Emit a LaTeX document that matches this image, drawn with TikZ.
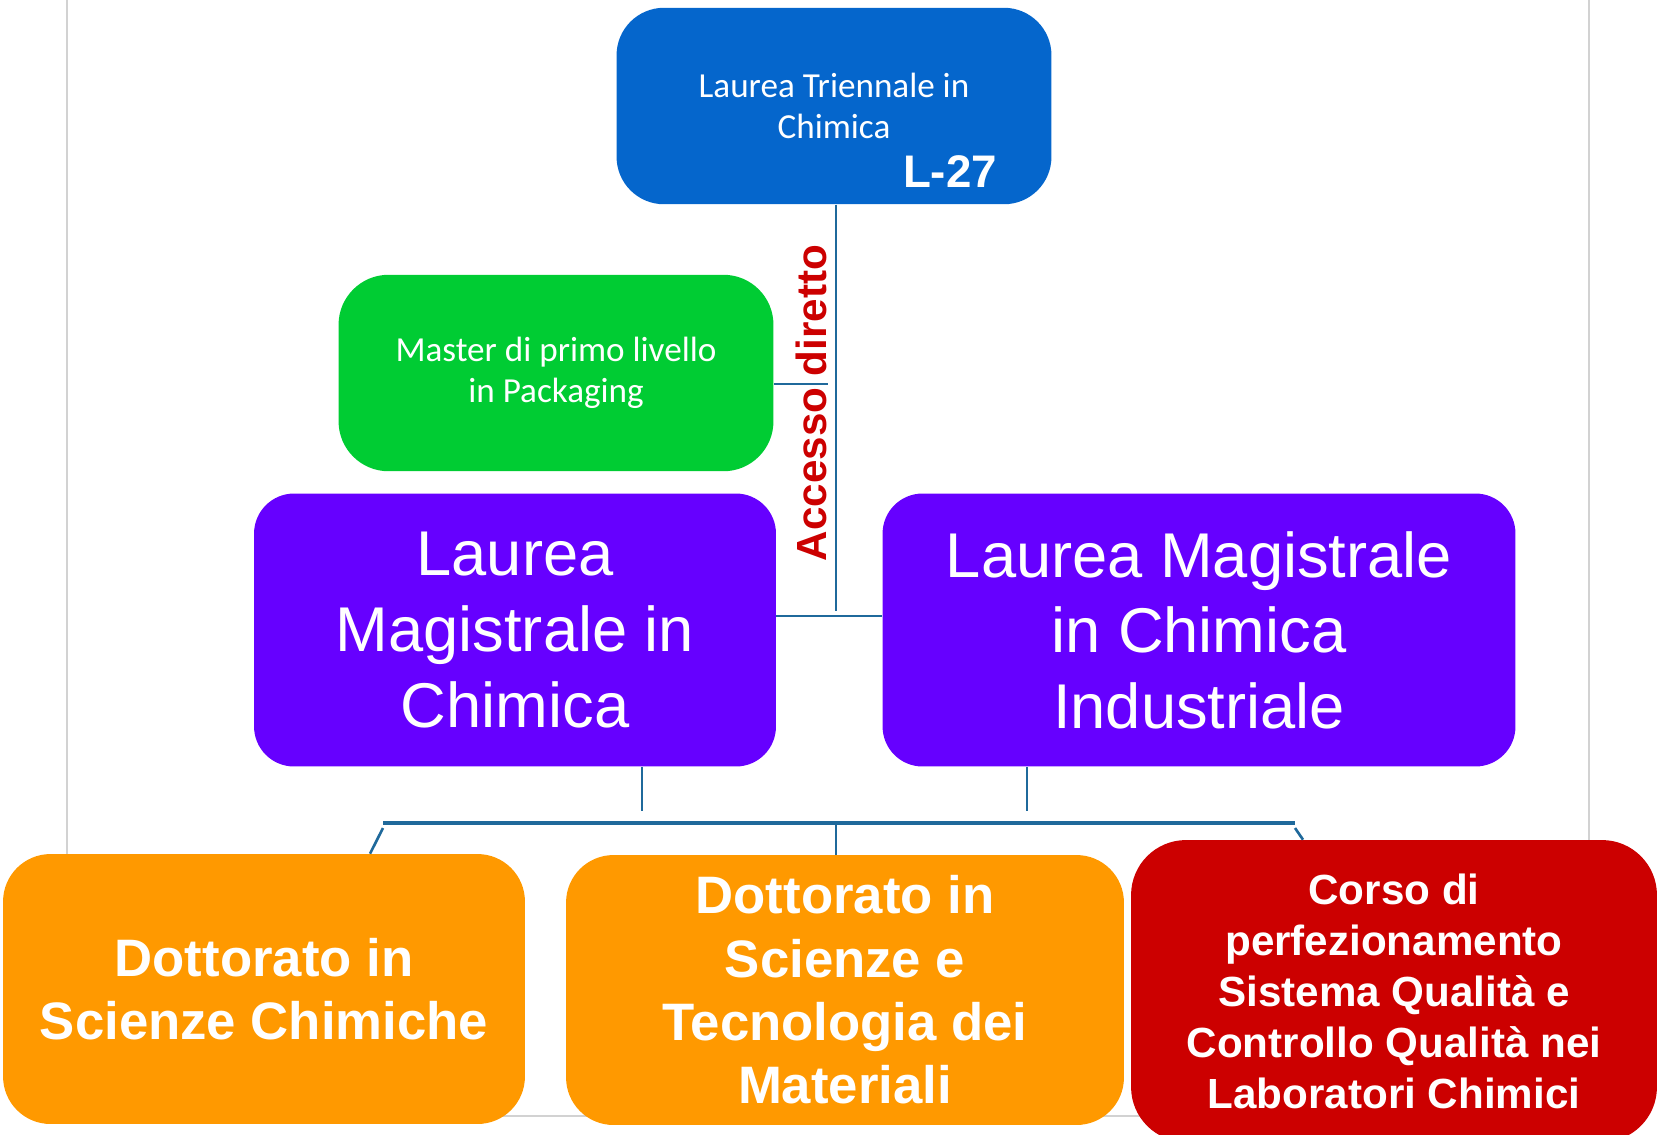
\documentclass[tikz,border=0pt]{standalone}
\usepackage{fontspec}
\setmainfont{Liberation Sans}
\newfontfamily\cbr{Carlito}
\usetikzlibrary{positioning,calc}
\definecolor{unibl}{RGB}{5,102,204}
\definecolor{unigr}{RGB}{0,204,51}
\definecolor{unipu}{RGB}{102,0,255}
\definecolor{unior}{RGB}{255,153,0}
\definecolor{unird}{RGB}{204,0,0}
\definecolor{cline}{RGB}{31,105,155}
\tikzset{
  box/.style={inner sep=0pt, text=white, align=center},
  small/.style={box, font=\cbr\fontsize{20}{23.5}\selectfont, rounded corners=0.95cm,
    minimum width=8.7cm, minimum height=3.93cm},
  mag/.style={box, fill=unipu, font=\fontsize{36}{43}\selectfont, rounded corners=0.8cm,
    minimum height=5.46cm},
  doc/.style={box, fill=unior, font=\bfseries\fontsize{30}{36}\selectfont, rounded corners=0.95cm,
    minimum height=5.4cm},
  conn/.style={cline, line width=1.5pt},
  bar/.style={cline, line width=2.4pt},
  frm/.style={gray!35, line width=1.2pt},
}
\begin{document}
\begin{tikzpicture}[x=0.02cm,y=-0.02cm]
\useasboundingbox (0,0) rectangle (1659,1134);
\draw[frm] (67,0) -- (67,1116) -- (1589,1116) -- (1589,0);
\node[small, fill=unibl] (tri) at (834,106) {Laurea Triennale in\\Chimica};
\node[box, font=\bfseries\fontsize{26}{30}\selectfont] (cls) at (950,172) {L-27};
\node[small, fill=unigr, rounded corners=1cm] (mst) at (556,373) {Master di primo livello\\in Packaging};
\node[mag, minimum width=10.44cm] (lmc) at (515,630) {Laurea\\Magistrale in\\Chimica};
\node[mag, minimum width=12.66cm] (lmi) at (1199,630) {Laurea Magistrale\\in Chimica\\Industriale};
\node[doc, minimum width=10.44cm] (dsc) at (264,989) {Dottorato in\\Scienze Chimiche};
\node[doc, minimum width=11.16cm] (dst) at (845,990) {Dottorato in\\Scienze e\\Tecnologia dei\\Materiali};
\node[box, fill=unird, font=\bfseries\fontsize{24}{29}\selectfont, rounded corners=1.1cm,
  minimum width=10.52cm, minimum height=6.04cm] (cpq) at (1394,991)
  {Corso di\\perfezionamento\\Sistema Qualità e\\Controllo Qualità nei\\Laboratori Chimici};
\node[box, rotate=90, text=unird, font=\bfseries\fontsize{24}{28}\selectfont] (acc) at (811,403) {Accesso diretto};
\coordinate (hub) at (836,611);
\coordinate (mid) at (836,616);
\coordinate (tap) at (828,384);
\draw[conn] (tri.south -| hub) -- (hub);
\draw[conn] (mst.east |- tap) -- (tap);
\draw[conn] (lmc.east |- mid) -- (lmi.west |- mid);
\coordinate (dropa) at (642,811);
\coordinate (dropb) at (1027,811);
\draw[conn] (lmc.south -| dropa) -- (dropa);
\draw[conn] (lmi.south -| dropb) -- (dropb);
\coordinate (barl) at (383,823);
\coordinate (barm) at (836,823);
\coordinate (barr) at (1295,823);
\draw[bar] (barl) -- (barr);
\draw[conn] ($(barl)+(0,5)$) -- ($(dsc.north)+(106,0)$);
\draw[conn] (barm) -- (dst.north -| barm);
\draw[conn] ($(barr)+(0,5)$) -- ($(cpq.north)+(-91,0)$);
\end{tikzpicture}
\end{document}
